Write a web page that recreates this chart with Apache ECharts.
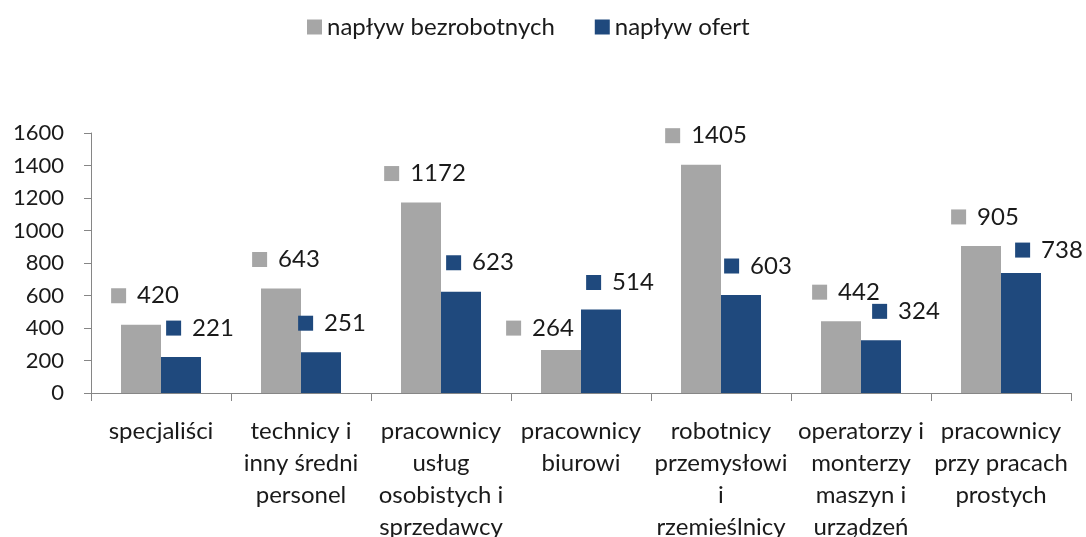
<!DOCTYPE html>
<html>
<head>
<meta charset="utf-8">
<script src="https://cdn.jsdelivr.net/npm/echarts@6/dist/echarts.min.js"></script>
<style>
  html, body {margin: 0; padding: 0; background: #fff;}
  #chart {width: 1086px; height: 537px;}
</style>
</head>
<body>
<div id="chart"></div>
<script>
const categories = [
    'specjaliści',
    'technicy i\ninny średni\npersonel',
    'pracownicy\nusług\nosobistych i\nsprzedawcy',
    'pracownicy\nbiurowi',
    'robotnicy\nprzemysłowi\ni\nrzemieślnicy',
    'operatorzy i\nmonterzy\nmaszyn i\nurządzeń',
    'pracownicy\nprzy pracach\nprostych'
]
const seriesNames = ['napływ bezrobotnych', 'napływ ofert']
const unemployed = [420, 643, 1172, 264, 1405, 442, 905]
const offers = [221, 251, 623, 514, 603, 324, 738]

// label shifts (x, y) as the labels were dragged by hand in the original
const greyShift = [[4, 0], [5, 0], [4, 0], [-21, 7], [5, 0], [5, 0], [4, 0]]
const blueShift = [[19, 0], [11, 0], [19, 0], [19, 2], [17, 0], [25, 0], [28, 6]]

const GREY = '#A6A6A6'
const BLUE = '#1F497D'
const FONT = 'Lato'
const INK = '#1a1a1a'

const chart = echarts.init(document.getElementById('chart'))

function makeData(values, shifts) {
    return values.map((v, i) => ({
        value: v,
        label: {offset: shifts[i]}
    }))
}

function labelStyle(color) {
    return {
        show: true,
        position: 'top',
        distance: 17,
        formatter: '{k|}{v|{c}}',
        rich: {
            k: {width: 15, height: 15, backgroundColor: color},
            v: {fontFamily: FONT, fontSize: 24, color: INK, padding: [0, 0, 0, 11]}
        }
    }
}

const option = {
    animation: false,
    textStyle: {fontFamily: FONT},
    legend: {
        left: 302,
        top: 10,
        itemWidth: 15,
        itemHeight: 15,
        itemGap: 40,
        icon: 'rect',
        textStyle: {fontFamily: FONT, fontSize: 24, color: INK},
        data: seriesNames
    },
    grid: {left: 91, right: 15, top: 133, bottom: 144, containLabel: false, outerBoundsMode: 'none'},
    xAxis: {
        type: 'category',
        data: categories,
        axisLine: {lineStyle: {color: '#868686', width: 1}},
        axisTick: {show: true, length: 8, lineStyle: {color: '#868686'}},
        axisLabel: {
            interval: 0,
            margin: 22,
            fontFamily: FONT,
            fontSize: 24,
            lineHeight: 32,
            color: INK,
            align: 'center'
        }
    },
    yAxis: {
        type: 'value',
        min: 0,
        max: 1600,
        interval: 200,
        splitLine: {show: false},
        axisLine: {show: true, lineStyle: {color: '#868686', width: 1}},
        axisTick: {show: true, length: 7, lineStyle: {color: '#868686'}},
        axisLabel: {
            fontFamily: FONT,
            fontSize: 22,
            color: INK,
            margin: 27,
            formatter: (v) => String(v)
        }
    },
    series: [
        {
            name: seriesNames[0],
            type: 'bar',
            barWidth: 40,
            barGap: '0%',
            itemStyle: {color: GREY},
            label: labelStyle(GREY),
            data: makeData(unemployed, greyShift)
        },
        {
            name: seriesNames[1],
            type: 'bar',
            barWidth: 40,
            barGap: '0%',
            itemStyle: {color: BLUE},
            label: labelStyle(BLUE),
            data: makeData(offers, blueShift)
        }
    ]
}

chart.setOption(option)
</script>
</body>
</html>
